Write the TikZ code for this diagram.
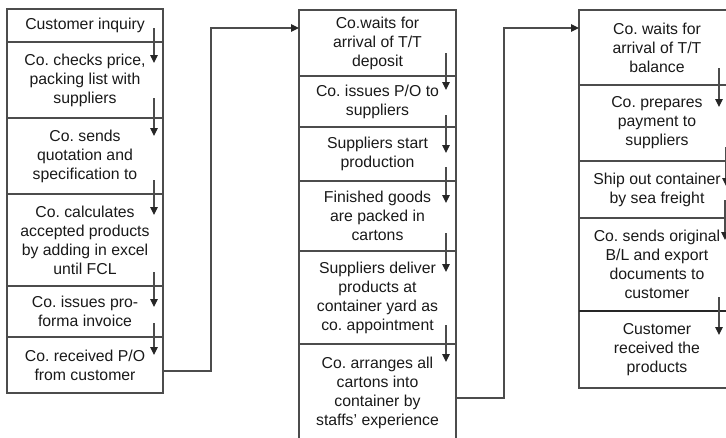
\documentclass[tikz,border=0pt]{standalone}
\usepackage{fontspec}
\setmainfont{Liberation Sans}
\usepackage{xcolor}
\usepackage{tikz}
\usetikzlibrary{arrows.meta, positioning}
\frenchspacing

\begin{document}
\begin{tikzpicture}[
                        x=1pt, y=-1pt,
                        font       = \fontsize{15.8}{19}\selectfont,
                        box/.style = {draw=black!70, line width=1.1pt, align=center, inner sep=2pt,
                                    outer sep=0pt, minimum width=156pt, text=black!90},
                        ar/.style  = {-{Triangle[length=8pt, width=7.5pt, color=black!85]}, draw=black!70, line width=1.1pt}
                  ]
                  \useasboundingbox (0,0) rectangle (726,437);

                  % left column
                  \node[box, anchor=north west, minimum height=33pt] (c1) at (7,9) {Customer inquiry};
                  \node[box, below=0pt of c1, minimum height=76pt] (c2) {Co. checks price,\\packing list with\\suppliers};
                  \node[box, below=0pt of c2, minimum height=76pt] (c3) {Co. sends\\quotation and\\specification to};
                  \node[box, below=0pt of c3, minimum height=92pt] (c4) {Co. calculates\\accepted products\\by adding in excel\\until FCL};
                  \node[box, below=0pt of c4, minimum height=51pt] (c5) {Co. issues pro-\\forma invoice};
                  \node[box, below=0pt of c5, minimum height=56pt] (c6) {Co. received P/O\\from customer};

                  % middle column
                  \node[box, anchor=north west, minimum width=157pt, minimum height=66pt] (m1) at (299,10) {Co.waits for\\arrival of T/T\\deposit};
                  \node[box, below=0pt of m1, minimum width=157pt, minimum height=51pt] (m2) {Co. issues P/O to\\suppliers};
                  \node[box, below=0pt of m2, minimum width=157pt, minimum height=54pt] (m3) {Suppliers start\\production};
                  \node[box, below=0pt of m3, minimum width=157pt, minimum height=70pt] (m4) {Finished goods\\are packed in\\cartons};
                  \node[box, below=0pt of m4, minimum width=157pt, minimum height=93pt] (m5) {Suppliers deliver\\products at\\container yard as\\co. appointment};
                  \node[box, below=0pt of m5, minimum width=157pt, minimum height=97pt] (m6) {Co. arranges all\\cartons into\\container by\\staffs’ experience};

                  % right column
                  \node[box, anchor=north west, minimum height=75pt] (r1) at (579,10) {Co. waits for\\arrival of T/T\\balance};
                  \node[box, below=0pt of r1, minimum height=76pt] (r2) {Co. prepares\\payment to\\suppliers};
                  \node[box, below=0pt of r2, minimum height=57pt] (r3) {Ship out container\\by sea freight};
                  \node[box, below=0pt of r3, minimum height=93pt] (r4) {Co. sends original\\B/L and export\\documents to\\customer};
                  \node[box, below=0pt of r4, minimum height=77pt] (r5) {Customer\\received the\\products};
                  \draw[black!85, line width=2pt] (r4.south west) -- (r4.south east);

                  % steps inside the columns
                  \foreach \a/\b/\s/\u/\d in {c1/c2/9/14/21, c2/c3/9/20/18, c3/c4/9/14/21, c4/c5/9/14/21, c5/c6/9/14/18,
                                              m1/m2/10/23/14, m2/m3/10/12/26, m3/m4/10/14/22, m4/m5/10/18/21, m5/m6/10/19/18,
                                              r1/r2/16/17/22, r2/r3/9/14/25, r3/r4/10/18/22, r4/r5/16/14/24}
                        \draw[ar] ([xshift=-\s pt, yshift=\u pt]\a.south east) -- ([xshift=-\s pt, yshift=-\d pt]\b.north east);

                  % links between the columns
                  \draw[ar] ([yshift=-6pt]c6.east) -- ++(48,0) |- ([yshift=15pt]m1.west);
                  \draw[ar] ([yshift=-5.5pt]m6.east) -- ++(48,0) |- ([yshift=19.5pt]r1.west);
            \end{tikzpicture}
\end{document}
